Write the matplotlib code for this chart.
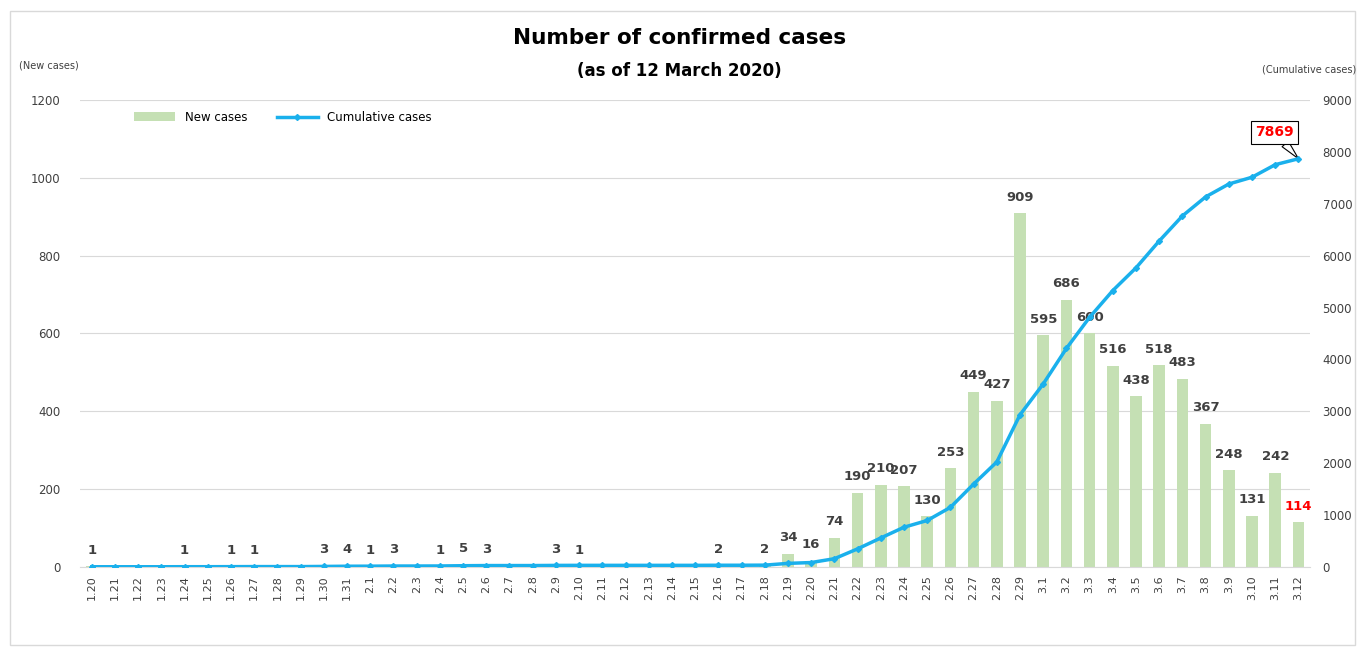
import numpy as np
import matplotlib.pyplot as plt
from matplotlib.patches import Rectangle

# dates (month.day) from 20 Jan to 12 Mar 2020
dates = ([f"1.{d}" for d in range(20, 32)] + [f"2.{d}" for d in range(1, 30)]
         + [f"3.{d}" for d in range(1, 13)])

new_cases = [1, 0, 0, 0, 1, 0, 1, 1, 0, 0, 3, 4,
             1, 3, 0, 1, 5, 3, 0, 0, 3, 1, 0, 0, 0, 0, 0, 2, 0, 2,
             34, 16, 74, 190, 210, 207, 130, 253, 449, 427, 909,
             595, 686, 600, 516, 438, 518, 483, 367, 248, 131, 242, 114]

cumulative = [1, 1, 1, 1, 2, 2, 3, 4, 4, 4, 7, 11,
              12, 15, 15, 16, 21, 24, 24, 24, 27, 28, 28, 28, 28, 28, 28, 30, 30, 32,
              66, 82, 156, 346, 556, 763, 893, 1146, 1595, 2022, 2931,
              3526, 4212, 4812, 5328, 5766, 6284, 6767, 7134, 7382, 7513, 7755, 7869]

bar_color = "#c5e0b4"
line_color = "#1ab0ec"
label_color = "#404040"

fig = plt.figure(figsize=(13.59, 6.5), dpi=100)
fig.patches.append(Rectangle((0.007, 0.008), 0.99, 0.975, transform=fig.transFigure,
                             fill=False, edgecolor="#d9d9d9", linewidth=1))
ax = fig.add_axes([0.059, 0.128, 0.905, 0.718])
x = np.arange(len(dates))

ax.bar(x, new_cases, width=0.5, color=bar_color, label="New cases", zorder=2)
ax.set_ylim(0, 1200)
ax.set_yticks(range(0, 1201, 200))
ax.set_xlim(-0.5, len(dates) - 0.5)
ax.grid(axis="y", color="#d9d9d9", linewidth=0.8, zorder=0)
ax.set_axisbelow(True)
ax.set_xticks(x)
ax.set_xticklabels(dates, rotation=90, fontsize=8, color=label_color)
ax.tick_params(axis="x", length=0, pad=6)
ax.tick_params(axis="y", length=0, labelsize=8.5, labelcolor=label_color, pad=14)
for s in ["top", "right", "left"]:
    ax.spines[s].set_visible(False)
ax.spines["bottom"].set_color("#d9d9d9")

# value labels above bars
for i, v in enumerate(new_cases):
    if v == 0:
        continue
    c = "red" if i == len(new_cases) - 1 else label_color
    ax.annotate(str(v), (i, v), xytext=(0, 7), textcoords="offset points",
                ha="center", va="bottom", fontsize=9.5, fontweight="bold", color=c, zorder=6)

ax2 = ax.twinx()
ax2.plot(x, cumulative, color=line_color, linewidth=2.5, marker="D", markersize=3,
         label="Cumulative cases", zorder=4)
ax2.set_ylim(0, 9000)
ax2.set_yticks(range(0, 9001, 1000))
ax2.tick_params(axis="y", length=0, labelsize=8.5, labelcolor=label_color, pad=9)
for s in ax2.spines.values():
    s.set_visible(False)

# callout for final cumulative value
ax2.annotate(str(cumulative[-1]), (x[-1], cumulative[-1]), xytext=(-17, 19),
             textcoords="offset points", ha="center", va="center",
             fontsize=10, fontweight="bold", color="red",
             bbox=dict(boxstyle="square,pad=0.3", fc="white", ec="black", lw=0.8),
             arrowprops=dict(arrowstyle="wedge,tail_width=0.6", fc="white", ec="black",
                             lw=0.8, shrinkA=0, shrinkB=0))

h1, l1 = ax.get_legend_handles_labels()
h2, l2 = ax2.get_legend_handles_labels()
ax.legend(h1 + h2, l1 + l2, loc="upper left", bbox_to_anchor=(0.035, 1.0), ncol=2,
          frameon=False, fontsize=8.5, handlelength=3.5, columnspacing=2.5)

fig.text(0.5, 0.933, "Number of confirmed cases", ha="center", fontsize=15.5, fontweight="bold")
fig.text(0.5, 0.883, "(as of 12 March 2020)", ha="center", fontsize=12, fontweight="bold")
fig.text(0.014, 0.895, "(New cases)", fontsize=7, color=label_color)
fig.text(0.998, 0.888, "(Cumulative cases)", fontsize=7, color=label_color, ha="right")

fig.savefig("out.png", dpi=100)
